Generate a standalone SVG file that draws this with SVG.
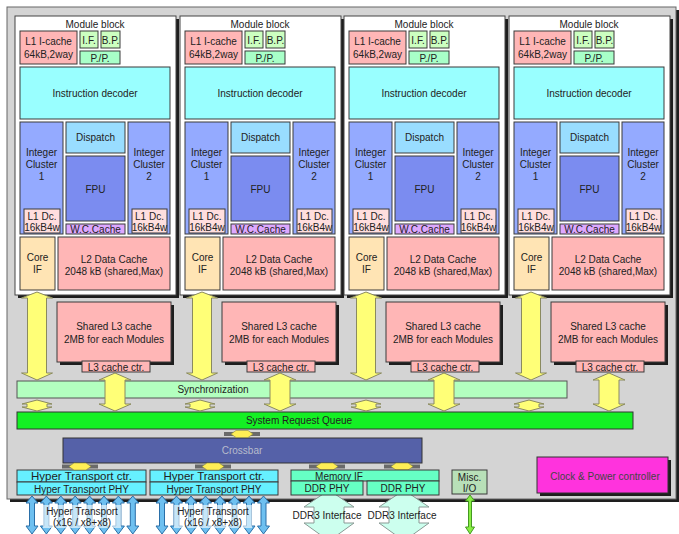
<svg xmlns="http://www.w3.org/2000/svg" width="679" height="534" viewBox="0 0 679 534">
<style>
text{font-family:"Liberation Sans",Arial,sans-serif;font-size:10px;fill:#222;text-anchor:middle}
.b{stroke:#3a3a3a;stroke-width:1}
.sh{fill:#1e1e1e}
.mod{fill:#fff;stroke:#444;stroke-width:1}
.pink{fill:#ffb6b6}
.grn{fill:#ccffc0}
.mint{fill:#a8ffc8}
.cyan{fill:#99ffff}
.ic{fill:#94aaff}
.disp{fill:#99ddff}
.fpu{fill:#7b8cf0}
.wc{fill:#dda8ff}
.dc{fill:#ffdede}
.core{fill:#ffe4b4}
.yel{fill:#ffff77;stroke:#8a8a60;stroke-width:1}
.ht{fill:#66f0ff}
.ddr{fill:#66ffc4}
.harr{fill:#6ec0f0;stroke:#2a6fa8;stroke-width:1}
.darr{fill:#ccffee;stroke:#8a9a95;stroke-width:1}
</style>
<defs>
<path id="bigArr" d="M0,292 L15.5,298 L9.5,298 L9.5,373 L15.5,373 L0,380 L-15.5,373 L-9.5,373 L-9.5,298 L-15.5,298 Z"/>
<path id="l3Arr" d="M0,373 L16,380 L10,380 L10,404 L16,404 L0,411 L-16,404 L-10,404 L-10,380 L-16,380 Z"/>
<path id="smArr" d="M0,400 L15,404 L10,404 L10,407 L15,407 L0,411 L-15,407 L-10,407 L-10,404 L-15,404 Z"/>
<path id="htArr" d="M0,496 L6,503 L2.5,503 L2.5,526 L6,526 L0,534 L-6,526 L-2.5,526 L-2.5,503 L-6,503 Z"/>
<path id="ddrArr" d="M0,490 L25,507 L15,507 L15,523 L25,523 L0,541 L-25,523 L-15,523 L-15,507 L-25,507 Z"/>
<g id="xc"><rect x="-18" y="-2" width="36" height="4" fill="#6a6a6a"/><path d="M-11,0 L-6,-3.5 L6,-3.5 L11,0 L6,3.5 L-6,3.5 Z" fill="#ffee55" stroke="#8a8a40" stroke-width="0.6"/></g>
</defs>

<g id="chip">
<rect x="10" y="10" width="669" height="492" class="sh"/>
<rect x="7" y="7" width="669" height="492" fill="#d4d4d4" stroke="#666"/>
</g>

<g id="module1">
<rect x="18" y="19" width="161" height="279" class="sh"/>
<rect x="15" y="16" width="161" height="279" class="mod"/>
<text x="95" y="27.5">Module block</text>
<rect x="20" y="31" width="57" height="33" class="pink b"/><text x="48.5" y="44.5">L1 I-cache</text><text x="48.5" y="57.5">64kB,2way</text>
<rect x="80" y="31" width="18" height="17" class="grn b"/><text x="89" y="43.5">I.F.</text>
<rect x="101" y="31" width="19" height="17" class="grn b"/><text x="110.5" y="43.5">B.P.</text>
<rect x="80" y="51" width="40" height="13" class="mint b"/><text x="100" y="61.5">P./P.</text>
<rect x="20" y="67" width="150" height="52" class="cyan b"/><text x="95" y="96.5">Instruction decoder</text>
<rect x="20" y="122" width="43" height="112" class="ic b"/><text x="41.5" y="155.5">Integer</text><text x="41.5" y="167.5">Cluster</text><text x="41.5" y="179.5">1</text>
<rect x="66" y="122" width="59" height="31" class="disp b"/><text x="95.5" y="140.5">Dispatch</text>
<rect x="66" y="156" width="59" height="65" class="fpu b"/><text x="95.5" y="192.5">FPU</text>
<rect x="66" y="224" width="59" height="10" class="wc b"/><text x="95.5" y="233">W.C.Cache</text>
<rect x="128" y="122" width="42" height="112" class="ic b"/><text x="149" y="155.5">Integer</text><text x="149" y="167.5">Cluster</text><text x="149" y="179.5">2</text>
<rect x="24" y="209" width="36" height="24" class="dc b"/><text x="42" y="219.5">L1 Dc.</text><text x="42" y="230.5">16kB4w</text>
<rect x="132" y="209" width="35" height="24" class="dc b"/><text x="149.5" y="219.5">L1 Dc.</text><text x="149.5" y="230.5">16kB4w</text>
<rect x="20" y="237" width="35" height="53" class="core b"/><text x="37.5" y="260.5">Core</text><text x="37.5" y="273">IF</text>
<rect x="58" y="237" width="112" height="53" class="pink b"/><text x="114" y="262.5">L2 Data Cache</text><text x="114" y="274.5">2048 kB (shared,Max)</text>
</g>

<g id="module2" transform="translate(165,0)">
<rect x="18" y="19" width="161" height="279" class="sh"/>
<rect x="15" y="16" width="161" height="279" class="mod"/>
<text x="95" y="27.5">Module block</text>
<rect x="20" y="31" width="57" height="33" class="pink b"/><text x="48.5" y="44.5">L1 I-cache</text><text x="48.5" y="57.5">64kB,2way</text>
<rect x="80" y="31" width="18" height="17" class="grn b"/><text x="89" y="43.5">I.F.</text>
<rect x="101" y="31" width="19" height="17" class="grn b"/><text x="110.5" y="43.5">B.P.</text>
<rect x="80" y="51" width="40" height="13" class="mint b"/><text x="100" y="61.5">P./P.</text>
<rect x="20" y="67" width="150" height="52" class="cyan b"/><text x="95" y="96.5">Instruction decoder</text>
<rect x="20" y="122" width="43" height="112" class="ic b"/><text x="41.5" y="155.5">Integer</text><text x="41.5" y="167.5">Cluster</text><text x="41.5" y="179.5">1</text>
<rect x="66" y="122" width="59" height="31" class="disp b"/><text x="95.5" y="140.5">Dispatch</text>
<rect x="66" y="156" width="59" height="65" class="fpu b"/><text x="95.5" y="192.5">FPU</text>
<rect x="66" y="224" width="59" height="10" class="wc b"/><text x="95.5" y="233">W.C.Cache</text>
<rect x="128" y="122" width="42" height="112" class="ic b"/><text x="149" y="155.5">Integer</text><text x="149" y="167.5">Cluster</text><text x="149" y="179.5">2</text>
<rect x="24" y="209" width="36" height="24" class="dc b"/><text x="42" y="219.5">L1 Dc.</text><text x="42" y="230.5">16kB4w</text>
<rect x="132" y="209" width="35" height="24" class="dc b"/><text x="149.5" y="219.5">L1 Dc.</text><text x="149.5" y="230.5">16kB4w</text>
<rect x="20" y="237" width="35" height="53" class="core b"/><text x="37.5" y="260.5">Core</text><text x="37.5" y="273">IF</text>
<rect x="58" y="237" width="112" height="53" class="pink b"/><text x="114" y="262.5">L2 Data Cache</text><text x="114" y="274.5">2048 kB (shared,Max)</text>
</g>

<g id="module3" transform="translate(329,0)">
<rect x="18" y="19" width="161" height="279" class="sh"/>
<rect x="15" y="16" width="161" height="279" class="mod"/>
<text x="95" y="27.5">Module block</text>
<rect x="20" y="31" width="57" height="33" class="pink b"/><text x="48.5" y="44.5">L1 I-cache</text><text x="48.5" y="57.5">64kB,2way</text>
<rect x="80" y="31" width="18" height="17" class="grn b"/><text x="89" y="43.5">I.F.</text>
<rect x="101" y="31" width="19" height="17" class="grn b"/><text x="110.5" y="43.5">B.P.</text>
<rect x="80" y="51" width="40" height="13" class="mint b"/><text x="100" y="61.5">P./P.</text>
<rect x="20" y="67" width="150" height="52" class="cyan b"/><text x="95" y="96.5">Instruction decoder</text>
<rect x="20" y="122" width="43" height="112" class="ic b"/><text x="41.5" y="155.5">Integer</text><text x="41.5" y="167.5">Cluster</text><text x="41.5" y="179.5">1</text>
<rect x="66" y="122" width="59" height="31" class="disp b"/><text x="95.5" y="140.5">Dispatch</text>
<rect x="66" y="156" width="59" height="65" class="fpu b"/><text x="95.5" y="192.5">FPU</text>
<rect x="66" y="224" width="59" height="10" class="wc b"/><text x="95.5" y="233">W.C.Cache</text>
<rect x="128" y="122" width="42" height="112" class="ic b"/><text x="149" y="155.5">Integer</text><text x="149" y="167.5">Cluster</text><text x="149" y="179.5">2</text>
<rect x="24" y="209" width="36" height="24" class="dc b"/><text x="42" y="219.5">L1 Dc.</text><text x="42" y="230.5">16kB4w</text>
<rect x="132" y="209" width="35" height="24" class="dc b"/><text x="149.5" y="219.5">L1 Dc.</text><text x="149.5" y="230.5">16kB4w</text>
<rect x="20" y="237" width="35" height="53" class="core b"/><text x="37.5" y="260.5">Core</text><text x="37.5" y="273">IF</text>
<rect x="58" y="237" width="112" height="53" class="pink b"/><text x="114" y="262.5">L2 Data Cache</text><text x="114" y="274.5">2048 kB (shared,Max)</text>
</g>

<g id="module4" transform="translate(494,0)">
<rect x="18" y="19" width="161" height="279" class="sh"/>
<rect x="15" y="16" width="161" height="279" class="mod"/>
<text x="95" y="27.5">Module block</text>
<rect x="20" y="31" width="57" height="33" class="pink b"/><text x="48.5" y="44.5">L1 I-cache</text><text x="48.5" y="57.5">64kB,2way</text>
<rect x="80" y="31" width="18" height="17" class="grn b"/><text x="89" y="43.5">I.F.</text>
<rect x="101" y="31" width="19" height="17" class="grn b"/><text x="110.5" y="43.5">B.P.</text>
<rect x="80" y="51" width="40" height="13" class="mint b"/><text x="100" y="61.5">P./P.</text>
<rect x="20" y="67" width="150" height="52" class="cyan b"/><text x="95" y="96.5">Instruction decoder</text>
<rect x="20" y="122" width="43" height="112" class="ic b"/><text x="41.5" y="155.5">Integer</text><text x="41.5" y="167.5">Cluster</text><text x="41.5" y="179.5">1</text>
<rect x="66" y="122" width="59" height="31" class="disp b"/><text x="95.5" y="140.5">Dispatch</text>
<rect x="66" y="156" width="59" height="65" class="fpu b"/><text x="95.5" y="192.5">FPU</text>
<rect x="66" y="224" width="59" height="10" class="wc b"/><text x="95.5" y="233">W.C.Cache</text>
<rect x="128" y="122" width="42" height="112" class="ic b"/><text x="149" y="155.5">Integer</text><text x="149" y="167.5">Cluster</text><text x="149" y="179.5">2</text>
<rect x="24" y="209" width="36" height="24" class="dc b"/><text x="42" y="219.5">L1 Dc.</text><text x="42" y="230.5">16kB4w</text>
<rect x="132" y="209" width="35" height="24" class="dc b"/><text x="149.5" y="219.5">L1 Dc.</text><text x="149.5" y="230.5">16kB4w</text>
<rect x="20" y="237" width="35" height="53" class="core b"/><text x="37.5" y="260.5">Core</text><text x="37.5" y="273">IF</text>
<rect x="58" y="237" width="112" height="53" class="pink b"/><text x="114" y="262.5">L2 Data Cache</text><text x="114" y="274.5">2048 kB (shared,Max)</text>
</g>

<g id="l3-1">
<rect x="60" y="305" width="114" height="60" class="sh"/>
<rect x="57" y="302" width="114" height="60" class="pink b"/>
<text x="114" y="329.5">Shared L3 cache</text><text x="114" y="342.5">2MB for each Modules</text>
<rect x="82" y="361" width="68" height="11" class="pink b"/><text x="116" y="370.5">L3 cache ctr.</text>
</g>
<g id="l3-2" transform="translate(165,0)">
<rect x="60" y="305" width="114" height="60" class="sh"/>
<rect x="57" y="302" width="114" height="60" class="pink b"/>
<text x="114" y="329.5">Shared L3 cache</text><text x="114" y="342.5">2MB for each Modules</text>
<rect x="82" y="361" width="68" height="11" class="pink b"/><text x="116" y="370.5">L3 cache ctr.</text>
</g>
<g id="l3-3" transform="translate(329,0)">
<rect x="60" y="305" width="114" height="60" class="sh"/>
<rect x="57" y="302" width="114" height="60" class="pink b"/>
<text x="114" y="329.5">Shared L3 cache</text><text x="114" y="342.5">2MB for each Modules</text>
<rect x="82" y="361" width="68" height="11" class="pink b"/><text x="116" y="370.5">L3 cache ctr.</text>
</g>
<g id="l3-4" transform="translate(494,0)">
<rect x="60" y="305" width="114" height="60" class="sh"/>
<rect x="57" y="302" width="114" height="60" class="pink b"/>
<text x="114" y="329.5">Shared L3 cache</text><text x="114" y="342.5">2MB for each Modules</text>
<rect x="82" y="361" width="68" height="11" class="pink b"/><text x="116" y="370.5">L3 cache ctr.</text>
</g>

<g id="sync">
<rect x="17" y="381" width="550" height="17" fill="#b3ffbf" stroke="#555"/>
<text x="213" y="392.5">Synchronization</text>
</g>

<g id="srq">
<rect x="17" y="412" width="616" height="17" fill="#14f024" stroke="#333"/>
<text x="299" y="424">System Request Queue</text>
</g>

<g id="crossbar">
<rect x="63" y="438" width="359" height="25" fill="#5561a8" stroke="#333"/>
<text x="242" y="454" style="fill:#b8bccc">Crossbar</text>
</g>

<g id="ht1">
<rect x="17" y="470" width="129" height="12" class="ht b"/><text x="81.5" y="480" style="font-size:11.5px">Hyper Transport ctr.</text>
<rect x="17" y="482" width="129" height="13" class="ht b"/><text x="81.5" y="492.5">Hyper Transport PHY</text>
</g>
<g id="ht2">
<rect x="150" y="470" width="128" height="12" class="ht b"/><text x="214" y="480" style="font-size:11.5px">Hyper Transport ctr.</text>
<rect x="150" y="482" width="128" height="13" class="ht b"/><text x="214" y="492.5">Hyper Transport PHY</text>
</g>

<g id="connectors">
<use href="#ddrArr" x="329" class="darr"/>
<use href="#ddrArr" x="404" class="darr"/>
<use href="#bigArr" x="37" class="yel"/>
<use href="#bigArr" x="202" class="yel"/>
<use href="#bigArr" x="366" class="yel"/>
<use href="#bigArr" x="531" class="yel"/>
<use href="#l3Arr" x="115" class="yel"/>
<use href="#l3Arr" x="280" class="yel"/>
<use href="#l3Arr" x="444" class="yel"/>
<use href="#l3Arr" x="609" class="yel"/>
<use href="#smArr" x="37" class="yel"/>
<use href="#smArr" x="200" class="yel"/>
<use href="#smArr" x="366" class="yel"/>
<use href="#smArr" x="529" class="yel"/>
<use href="#xc" x="242" y="434"/>
<use href="#xc" x="80" y="466.5"/>
<use href="#xc" x="213" y="466.5"/>
<use href="#xc" x="327" y="466.5"/>
<use href="#xc" x="402" y="466.5"/>
<use href="#htArr" x="32" class="harr"/>
<use href="#htArr" x="46.4" class="harr"/>
<use href="#htArr" x="60.8" class="harr"/>
<use href="#htArr" x="75.2" class="harr"/>
<use href="#htArr" x="89.6" class="harr"/>
<use href="#htArr" x="104" class="harr"/>
<use href="#htArr" x="118.4" class="harr"/>
<use href="#htArr" x="132.8" class="harr"/>
<use href="#htArr" x="162" class="harr"/>
<use href="#htArr" x="176.5" class="harr"/>
<use href="#htArr" x="191" class="harr"/>
<use href="#htArr" x="205.5" class="harr"/>
<use href="#htArr" x="220" class="harr"/>
<use href="#htArr" x="234.5" class="harr"/>
<use href="#htArr" x="249" class="harr"/>
<use href="#htArr" x="263.5" class="harr"/>
<path d="M470,495 L474.5,501 L471.5,501 L471.5,527 L474.5,527 L470,534 L465.5,527 L468.5,527 L468.5,501 L465.5,501 Z" fill="#88ee44" stroke="#449922"/>
</g>

<g id="ht-label1">
<rect x="43" y="505" width="78" height="23" fill="#fff" opacity="0.6"/>
<text x="82" y="514.5">Hyper Transport</text><text x="82" y="525.5">(x16 / x8+x8)</text>
</g>
<g id="ht-label2">
<rect x="174" y="505" width="78" height="23" fill="#fff" opacity="0.6"/>
<text x="213" y="514.5">Hyper Transport</text><text x="213" y="525.5">(x16 / x8+x8)</text>
</g>

<g id="memif">
<rect x="291" y="470" width="148" height="11" class="ddr b"/><text x="339" y="479.5">Memory IF</text>
<rect x="291" y="481" width="72" height="14" class="ddr b"/><text x="327" y="492">DDR PHY</text>
<rect x="367" y="481" width="72" height="14" class="ddr b"/><text x="403" y="492">DDR PHY</text>
</g>
<g id="ddr3-label">
<text x="327" y="518.5">DDR3 Interface</text>
<text x="402" y="518.5">DDR3 Interface</text>
</g>

<g id="misc-io">
<rect x="452" y="470" width="35" height="24" fill="#b8e0b8" class="b"/>
<text x="469.5" y="481">Misc.</text><text x="469.5" y="492">I/O</text>
</g>

<g id="clock">
<rect x="540" y="460" width="131" height="36" class="sh"/>
<rect x="537" y="457" width="131" height="36" fill="#ff33dd" stroke="#333"/>
<text x="605" y="479.5" style="fill:#444">Clock &amp; Power controller</text>
</g>
</svg>
